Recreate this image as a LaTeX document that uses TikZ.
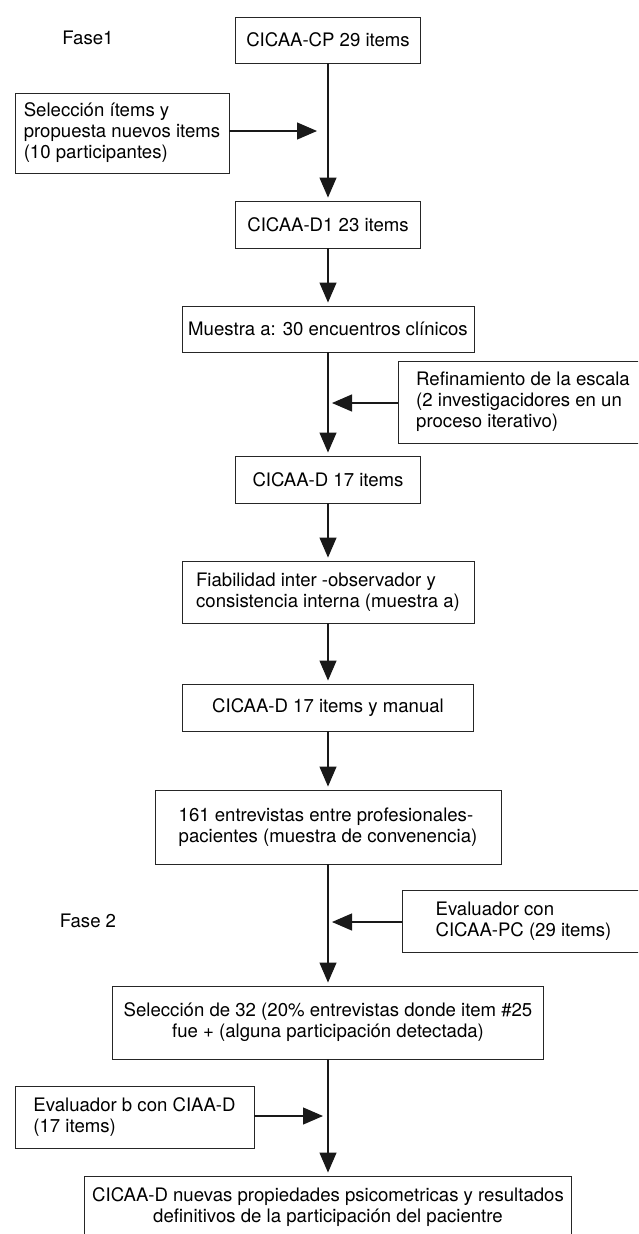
\documentclass[tikz,border=0pt]{standalone}
\usepackage{fontspec}
\setmainfont{TeX Gyre Heros}
\usetikzlibrary{arrows.meta}

\begin{document}
\begin{tikzpicture}[x=1pt, y=-1pt,
  caja/.style={draw=black!85, line width=0.9pt, inner sep=0pt,
    font=\fontsize{18.6}{21}\selectfont},
  fase/.style={font=\fontsize{18.6}{21}\selectfont},
  flecha/.style={draw=black!90, line width=1.2pt,
    -{Triangle[length=20pt,width=17pt]}}]
  \useasboundingbox (0, 0) rectangle (638, 1234);
  \clip (0, 0) rectangle (638, 1234);

  \node[fase] (fase1) at (88, 38) {Fase1};
  \node[caja, minimum width=185, minimum height=46] (cp) at (328, 40) {CICAA-CP 29 items};
  \node[caja, minimum width=214, minimum height=80, align=left] (sel) at (122, 133)
    {Selección ítems y\\propuesta nuevos items\\(10 participantes)};
  \coordinate (m1) at (317, 131);

  \draw[flecha] (sel.east |- m1) -- (m1);

  \node[caja, minimum width=185, minimum height=47] (d1) at (328, 224.5) {CICAA-D1 23 items};
  \node[caja, minimum width=292, minimum height=46] (muestra) at (328, 329) {Muestra a: 30 encuentros clínicos};
  \node[caja, minimum width=250, minimum height=82, align=left] (refin) at (523, 402)
    {Refinamiento de la escala\\(2 investigacidores en un\\proceso iterativo)};
  \coordinate (m2) at (332, 403);

  \draw[flecha, shorten >=3pt] (cp) -- (d1);
  \draw[flecha, shorten >=3pt] (d1) -- (muestra);
  \draw[flecha] (refin.west |- m2) -- (m2);

  \node[caja, minimum width=185, minimum height=47] (d17) at (328, 479.5) {CICAA-D 17 items};
  \node[caja, minimum width=292, minimum height=62, align=left] (fiab) at (328, 592)
    {Fiabilidad inter -observador y\\consistencia interna (muestra a)};
  \node[caja, minimum width=291, minimum height=47] (manual) at (328, 707.5) {CICAA-D 17 items y manual};

  \draw[flecha, shorten >=3pt] (muestra) -- (d17);
  \draw[flecha, shorten >=3pt] (d17) -- (fiab);
  \draw[flecha, shorten >=3pt] (fiab) -- (manual);

  \node[caja, minimum width=346, minimum height=74, align=left] (entrev) at (328, 827)
    {161 entrevistas entre profesionales-\\pacientes (muestra de convenencia)};
  \node[fase] (fase2) at (88, 921) {Fase 2};
  \node[caja, minimum width=243, minimum height=62, align=left] (evalpc) at (523.5, 921)
    {Evaluador con\\CICAA-PC (29 items)};
  \coordinate (m3) at (332, 922);

  \draw[flecha, shorten >=3pt] (manual) -- (entrev);
  \draw[flecha] (evalpc.west |- m3) -- (m3);

  \node[caja, minimum width=431, minimum height=73, align=center] (selec32) at (328, 1022.5)
    {Selección de 32 (20\% entrevistas donde item \#25\\fue + (alguna participación detectada)};
  \node[caja, minimum width=239, minimum height=62, align=left] (evalb) at (134.5, 1117)
    {Evaluador b con CIAA-D\\(17 items)};
  \coordinate (m4) at (323, 1116);
  \node[caja, minimum width=487, minimum height=62, align=center] (final) at (328, 1207)
    {CICAA-D nuevas propiedades psicometricas y resultados\\definitivos de la participación del pacientre};

  \draw[flecha, shorten >=3pt] (entrev) -- (selec32);
  \draw[flecha] (evalb.east |- m4) -- (m4);
  \draw[flecha, shorten >=3pt] (selec32) -- (final);
\end{tikzpicture}
\end{document}
